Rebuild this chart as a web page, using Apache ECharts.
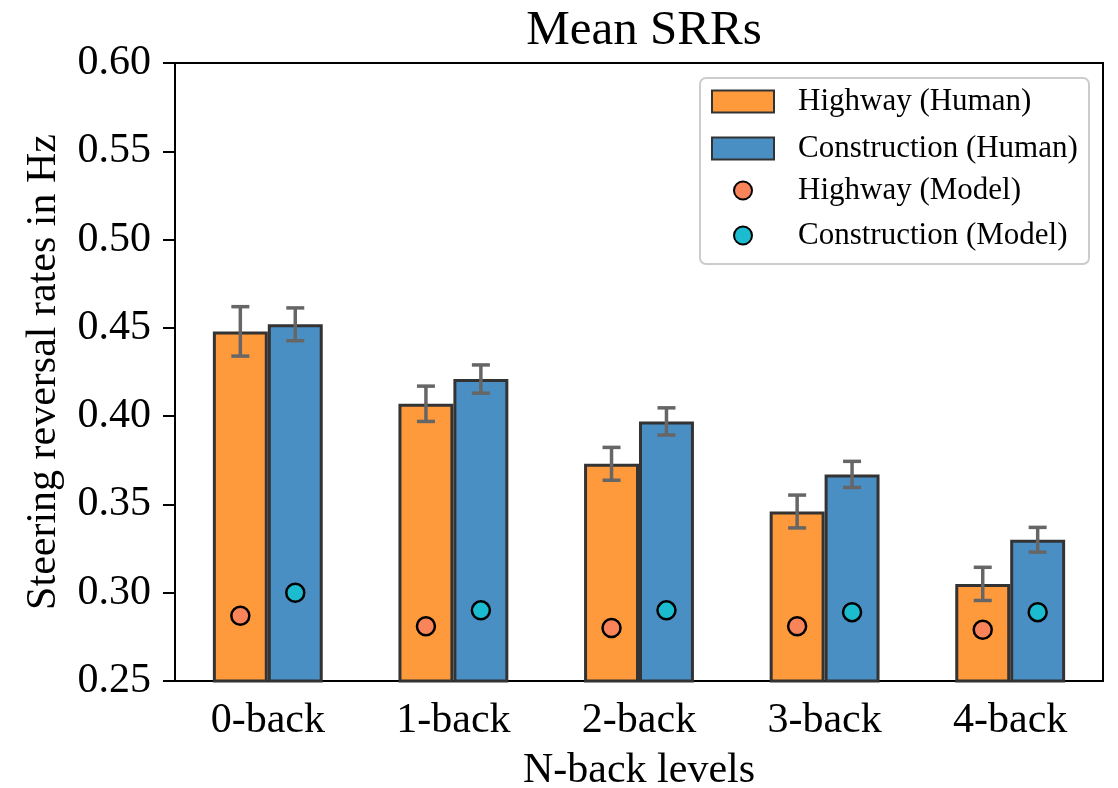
<!DOCTYPE html>
<html>
<head>
<meta charset="utf-8">
<script src="https://cdn.jsdelivr.net/npm/echarts@6/dist/echarts.min.js"></script>
<style>
html,body{margin:0;padding:0;background:#fff;}
#chart{width:1118px;height:788px;}
</style>
</head>
<body>
<div id="chart"></div>
<script>
// ---- data ----
const categories = ['0-back', '1-back', '2-back', '3-back', '4-back'];
const highwayHuman = [0.448, 0.407, 0.373, 0.346, 0.305];
const highwayHumanErr = [0.014, 0.010, 0.0093, 0.0093, 0.0094];
const constructionHuman = [0.452, 0.421, 0.397, 0.367, 0.330];
const constructionHumanErr = [0.0093, 0.008, 0.0077, 0.0074, 0.007];
const highwayModel = [0.287, 0.281, 0.280, 0.281, 0.279];
const constructionModel = [0.300, 0.290, 0.290, 0.289, 0.289];
const yTicks = ['0.25', '0.30', '0.35', '0.40', '0.45', '0.50', '0.55', '0.60'];

// ---- style ----
const FONT = '"Liberation Serif", "Times New Roman", serif';
const BAR_W = 0.296; // fraction of category band
const C_ORANGE = '#FE9A3B';
const C_BLUE = '#4A8FC4';
const C_CORAL = '#F9845A';
const C_TEAL = '#1BBCCF';

const chart = echarts.init(document.getElementById('chart'), null, {renderer: 'canvas'});

function errData(vals, errs, side) {
  return vals.map((v, i) => [i + side * BAR_W / 2, v, errs[i]]);
}
function errRender(params, api) {
  const x = api.value(0), v = api.value(1), e = api.value(2);
  const top = api.coord([x, v + e]);
  const bot = api.coord([x, v - e]);
  const cap = 9;
  const st = {stroke: '#666666', lineWidth: 3.5};
  return {
    type: 'group',
    children: [
      {type: 'line', shape: {x1: top[0], y1: top[1], x2: bot[0], y2: bot[1]}, style: st},
      {type: 'line', shape: {x1: top[0] - cap, y1: top[1], x2: top[0] + cap, y2: top[1]}, style: st},
      {type: 'line', shape: {x1: bot[0] - cap, y1: bot[1], x2: bot[0] + cap, y2: bot[1]}, style: st}
    ]
  };
}

const option = {
  backgroundColor: '#fff',
  animation: false,
  title: {
    text: 'Mean SRRs',
    left: 639, top: 2, textAlign: 'center',
    textStyle: {fontFamily: FONT, fontSize: 49, fontWeight: 'normal', color: '#000'}
  },
  grid: {
    left: 175, right: 15, top: 63, bottom: 107,
    containLabel: false, outerBoundsMode: 'none',
    show: true, borderColor: '#000', borderWidth: 2, backgroundColor: 'transparent'
  },
  legend: [
    {
      data: ['Highway (Human)', 'Construction (Human)'],
      orient: 'vertical', left: 706, top: 81, icon: 'rect',
      itemWidth: 62, itemHeight: 22, itemGap: 16,
      textStyle: {fontFamily: FONT, fontSize: 31, color: '#000', lineHeight: 30, padding: [0, 0, 0, 19]}
    },
    {
      data: ['Highway (Model)', 'Construction (Model)'],
      orient: 'vertical', left: 728, top: 170,
      itemWidth: 18, itemHeight: 18, itemGap: 14, icon: 'circle',
      textStyle: {fontFamily: FONT, fontSize: 31, color: '#000', lineHeight: 30, padding: [0, 0, 0, 41]}
    }
  ],
  graphic: [{
    type: 'rect', left: 699, top: 77, z: 0,
    shape: {width: 389, height: 186, r: 6},
    style: {fill: 'rgba(255,255,255,0.8)', stroke: '#cccccc', lineWidth: 2}
  }],
  xAxis: [
    {
      type: 'category', data: categories,
      name: 'N-back levels', nameLocation: 'middle', nameGap: 69,
      nameTextStyle: {fontFamily: FONT, fontSize: 42, color: '#000'},
      axisLine: {onZero: false, lineStyle: {color: '#000', width: 2}},
      axisTick: {alignWithLabel: true, length: 12, lineStyle: {color: '#000', width: 2}},
      axisLabel: {fontFamily: FONT, fontSize: 42, color: '#000', margin: 19},
      splitLine: {show: false}
    },
    {
      type: 'value', min: -0.5, max: 4.5, show: false,
      splitLine: {show: false}
    }
  ],
  yAxis: {
    type: 'value', min: 0.25, max: 0.60, interval: 0.05,
    name: 'Steering reversal rates in Hz', nameLocation: 'middle', nameGap: 110, nameRotate: 90,
    nameTextStyle: {fontFamily: FONT, fontSize: 42, color: '#000'},
    axisLine: {show: true, onZero: false, lineStyle: {color: '#000', width: 2}},
    axisTick: {show: true, length: 12, lineStyle: {color: '#000', width: 2}},
    axisLabel: {fontFamily: FONT, fontSize: 42, color: '#000', margin: 24,
      formatter: (v) => yTicks[Math.round((v - 0.25) / 0.05)] || v.toFixed(2)},
    splitLine: {show: false}
  },
  series: [
    {
      name: 'Highway (Human)', type: 'bar', data: highwayHuman, xAxisIndex: 0,
      barWidth: (BAR_W * 100) + '%', barGap: '0%',
      itemStyle: {color: C_ORANGE, borderColor: '#333333', borderWidth: 3}
    },
    {
      name: 'Construction (Human)', type: 'bar', data: constructionHuman, xAxisIndex: 0,
      barWidth: (BAR_W * 100) + '%', barGap: '0%',
      itemStyle: {color: C_BLUE, borderColor: '#333333', borderWidth: 3}
    },
    {
      type: 'custom', xAxisIndex: 1, renderItem: errRender, z: 5,
      data: errData(highwayHuman, highwayHumanErr, -1)
    },
    {
      type: 'custom', xAxisIndex: 1, renderItem: errRender, z: 5,
      data: errData(constructionHuman, constructionHumanErr, 1)
    },
    {
      name: 'Highway (Model)', type: 'scatter', xAxisIndex: 1, z: 6,
      symbol: 'circle', symbolSize: 18,
      itemStyle: {color: C_CORAL, borderColor: '#000', borderWidth: 2.5, opacity: 1},
      data: highwayModel.map((v, i) => [i - BAR_W / 2, v])
    },
    {
      name: 'Construction (Model)', type: 'scatter', xAxisIndex: 1, z: 6,
      symbol: 'circle', symbolSize: 18,
      itemStyle: {color: C_TEAL, borderColor: '#000', borderWidth: 2.5, opacity: 1},
      data: constructionModel.map((v, i) => [i + BAR_W / 2, v])
    }
  ]
};
chart.setOption(option);
</script>
</body>
</html>
